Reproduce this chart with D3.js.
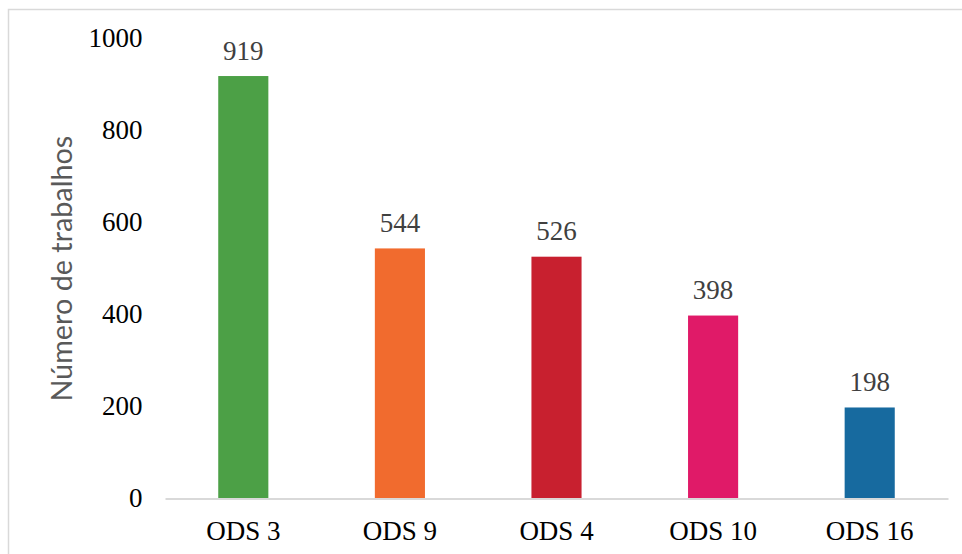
<!DOCTYPE html>
<html>
<head>
<meta charset="utf-8">
<script src="https://cdn.jsdelivr.net/npm/d3@7"></script>
<style>
  html, body { margin: 0; padding: 0; background: #ffffff; }
  svg { display: block; }
</style>
</head>
<body>
<svg id="chart" width="962" height="554"></svg>
<script>
// Number of works per Sustainable Development Goal
const categories = ["ODS 3", "ODS 9", "ODS 4", "ODS 10", "ODS 16"];
const values = [919, 544, 526, 398, 198];
const barColors = ["#4ca046", "#f16b2e", "#c8202f", "#e01a68", "#176a9f"];
const yTicks = [0, 200, 400, 600, 800, 1000];
const yTitle = "Número de trabalhos";

const svg = d3.select("#chart");
const W = 962, H = 554;

// chart-area frame (runs off the right and bottom edges)
svg.append("rect")
  .attr("x", 8.5).attr("y", 9.5)
  .attr("width", W + 10).attr("height", H + 10)
  .attr("fill", "#ffffff")
  .attr("stroke", "#d9d9d9")
  .attr("stroke-width", 1.5);

const plot = { left: 165, right: 948, top: 38.8, bottom: 498.5 };

const x = d3.scaleBand()
  .domain(categories)
  .range([plot.left, plot.right])
  .paddingInner(0.68)
  .paddingOuter(0.34);

const y = d3.scaleLinear()
  .domain([0, 1000])
  .range([plot.bottom, plot.top]);

const serif = "Liberation Serif";
const fontPx = "27px";

// y axis: labels only
const yAxis = d3.axisLeft(y).tickValues(yTicks).tickSize(0).tickPadding(0)
  .tickFormat(d3.format("d"));
const gy = svg.append("g")
  .attr("transform", "translate(142.5,0)")
  .call(yAxis);
gy.select(".domain").remove();
gy.selectAll("text")
  .style("font-family", serif)
  .style("font-size", fontPx)
  .attr("fill", "#000000")
  .attr("dy", "0.3em");

// bars
svg.append("g").selectAll("rect")
  .data(values)
  .join("rect")
  .attr("x", (d, i) => x(categories[i]))
  .attr("width", x.bandwidth())
  .attr("y", d => y(d))
  .attr("height", d => y(0) - y(d))
  .attr("fill", (d, i) => barColors[i]);

// x axis baseline and category labels
const xAxis = d3.axisBottom(x).tickSize(0).tickPadding(0);
const gx = svg.append("g")
  .attr("transform", `translate(0,${plot.bottom})`)
  .call(xAxis);
gx.select(".domain")
  .attr("stroke", "#d9d9d9")
  .attr("stroke-width", 1.8);
gx.selectAll("text")
  .style("font-family", serif)
  .style("font-size", fontPx)
  .attr("fill", "#000000")
  .attr("dy", null)
  .attr("y", 41.5);

// value labels above bars
svg.append("g").selectAll("text")
  .data(values)
  .join("text")
  .attr("x", (d, i) => x(categories[i]) + x.bandwidth() / 2)
  .attr("y", d => y(d) - 16.5)
  .attr("text-anchor", "middle")
  .style("font-family", serif)
  .style("font-size", fontPx)
  .attr("fill", "#404040")
  .text(d => d);

// y axis title, sized to span the plot height
const title = svg.append("text")
  .attr("transform", `translate(72,${(plot.top + plot.bottom) / 2}) rotate(-90)`)
  .attr("text-anchor", "middle")
  .style("font-family", "Lato")
  .style("font-size", "26px")
  .attr("fill", "#595959")
  .text(yTitle);
const len = title.node().getComputedTextLength();
title.style("font-size", (26 * 266 / len) + "px");
</script>
</body>
</html>
